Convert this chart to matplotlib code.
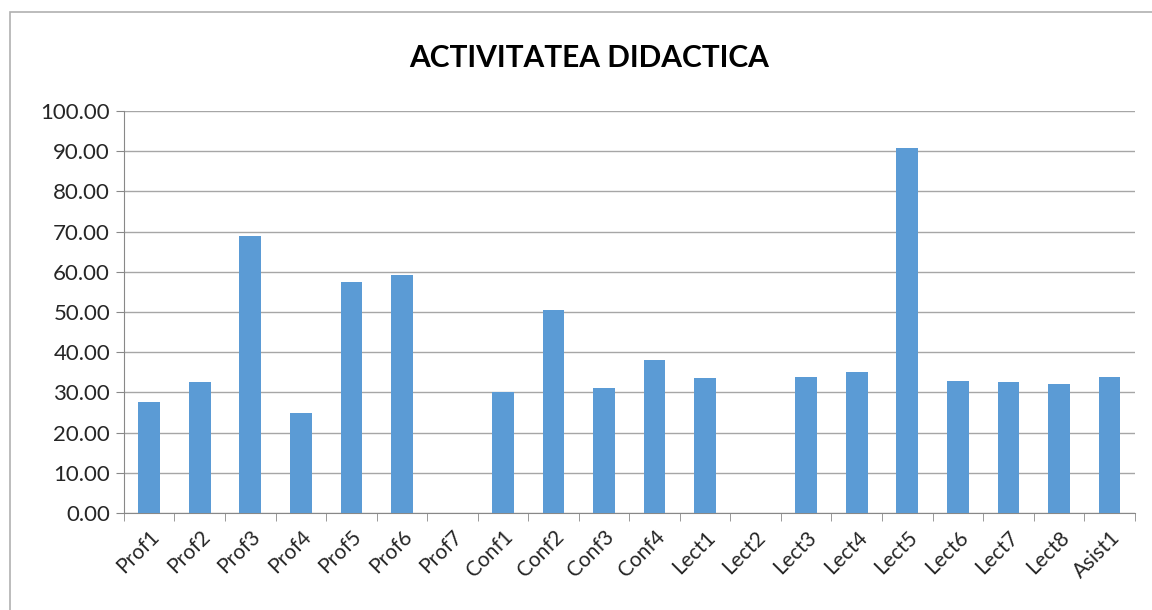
import numpy as np
import matplotlib.pyplot as plt
from matplotlib.patches import Rectangle

categories = ["Prof1", "Prof2", "Prof3", "Prof4", "Prof5", "Prof6", "Prof7",
              "Conf1", "Conf2", "Conf3", "Conf4", "Lect1", "Lect2", "Lect3",
              "Lect4", "Lect5", "Lect6", "Lect7", "Lect8", "Asist1"]
values = [27.6, 32.7, 69.0, 25.0, 57.5, 59.1, 0.0,
          30.0, 50.5, 31.0, 38.1, 33.7, 0.0, 33.9,
          35.2, 90.9, 32.9, 32.7, 32.0, 33.9]

plt.rcParams['font.family'] = ['Lato', 'DejaVu Sans']

fig = plt.figure(figsize=(11.52, 6.1), dpi=100)
# chart frame, cut off at the right and bottom edges
fig.patches.append(Rectangle((10 / 1152, -0.05), 1.1, (598 / 610) + 0.05,
                             transform=fig.transFigure, fill=False,
                             edgecolor='#b0b0b0', linewidth=1.2))
ax = fig.add_axes([0.1076, 0.159, 0.8774, 0.659])

x = np.arange(len(categories))
ax.bar(x, values, width=0.43, color='#5B9BD5', zorder=3)

ax.set_xlim(-0.5, len(categories) - 0.5)
ax.set_ylim(0, 100)
ax.set_yticks(np.arange(0, 101, 10))
ax.set_yticklabels([f"{v:.2f}" for v in np.arange(0, 101, 10)], fontsize=16, color='#262626')
ax.yaxis.grid(True, color='#a6a6a6', linewidth=1, zorder=0)

ax.set_xticks(x)
ax.set_xticklabels(categories, rotation=45, ha='right', rotation_mode='anchor',
                   fontsize=15, color='#262626')
ax.tick_params(axis='x', which='major', length=0, pad=10)
ax.set_xticks(np.arange(-0.5, len(categories), 1), minor=True)
ax.tick_params(axis='x', which='minor', length=6, color='#888888')
ax.tick_params(axis='y', length=6, color='#888888', pad=4)

for s in ['top', 'right']:
    ax.spines[s].set_visible(False)
ax.spines['left'].set_color('#888888')
ax.spines['bottom'].set_color('#888888')

fig.text(0.511, 0.905, "ACTIVITATEA DIDACTICA", ha='center', va='center',
         fontsize=21.5, fontweight='bold', color='#000000')

fig.savefig("out.png", dpi=100)
